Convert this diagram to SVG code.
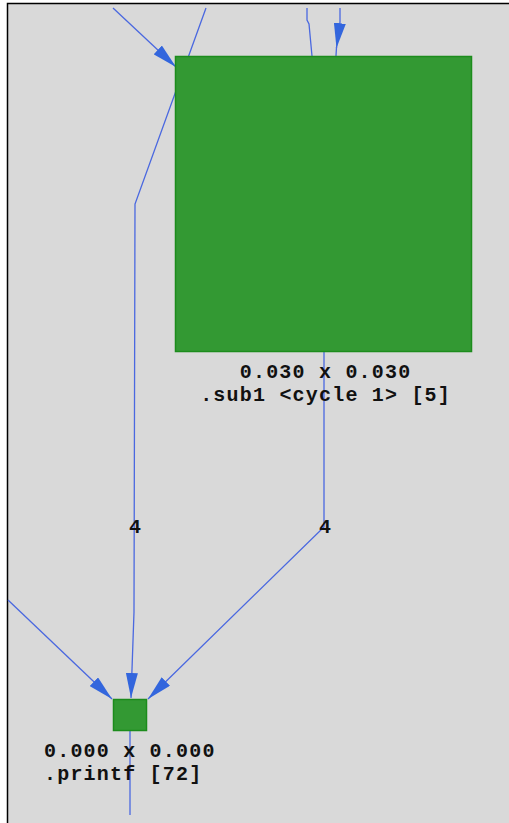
<svg xmlns="http://www.w3.org/2000/svg" width="509" height="823" viewBox="0 0 509 823">
  <style>
    .edge { fill: none; stroke: #4a68e0; stroke-width: 1.3; }
    .node { fill: #339933; stroke: #1c8c1c; stroke-width: 1.5; }
    .label { font-family: "Liberation Mono", "DejaVu Sans Mono", monospace; font-weight: bold; font-size: 20px; letter-spacing: 1.2px; fill: #111; }
    .elabel { font-family: "Liberation Mono", "DejaVu Sans Mono", monospace; font-weight: bold; font-size: 20px; fill: #111; text-anchor: middle; }
  </style>
  <defs>
    <marker id="arrow" viewBox="0 0 25 12" refX="25" refY="6" markerWidth="25" markerHeight="12" markerUnits="userSpaceOnUse" orient="auto">
      <path d="M0,0 L25,6 L0,12 Z" fill="#3366dd"/>
    </marker>
  </defs>

  <!-- canvas -->
  <rect x="0" y="0" width="509" height="823" fill="#ffffff"/>
  <rect x="7" y="3" width="502" height="820" fill="#d9d9d9"/>
  <path d="M7.5,823 L7.5,3.5 L509,3.5" fill="none" stroke="#000" stroke-width="1.5"/>

  <g id="connectors">
    <path class="edge" d="M113,8 L176,67" marker-end="url(#arrow)"/>
    <path class="edge" d="M206,8 L135,204 L134,612 L131,698" marker-end="url(#arrow)"/>
    <path class="edge" d="M307,8 L307,20 L309,24 L312,56"/>
    <path class="edge" d="M340,8 L340,22 L336.5,48" marker-end="url(#arrow)"/>
    <path class="edge" d="M336.5,47 L336,56"/>
    <path class="edge" d="M324,352 L324,527 L148,699" marker-end="url(#arrow)"/>
    <path class="edge" d="M8,600 L112,699" marker-end="url(#arrow)"/>
    <path class="edge" d="M130,731 L130,815"/>
    <text class="elabel" x="135" y="533">4</text>
    <text class="elabel" x="325" y="533">4</text>
  </g>

  <g id="node-sub1">
    <rect class="node" x="175.5" y="56.5" width="296" height="295"/>
    <text class="label" x="325.6" y="378" text-anchor="middle">0.030 x 0.030</text>
    <text class="label" x="325.6" y="401" text-anchor="middle">.sub1 &lt;cycle 1&gt; [5]</text>
  </g>

  <g id="node-printf">
    <rect class="node" x="113.5" y="699.5" width="33" height="31"/>
    <text class="label" x="44" y="757">0.000 x 0.000</text>
    <text class="label" x="44" y="780">.printf [72]</text>
  </g>
</svg>
